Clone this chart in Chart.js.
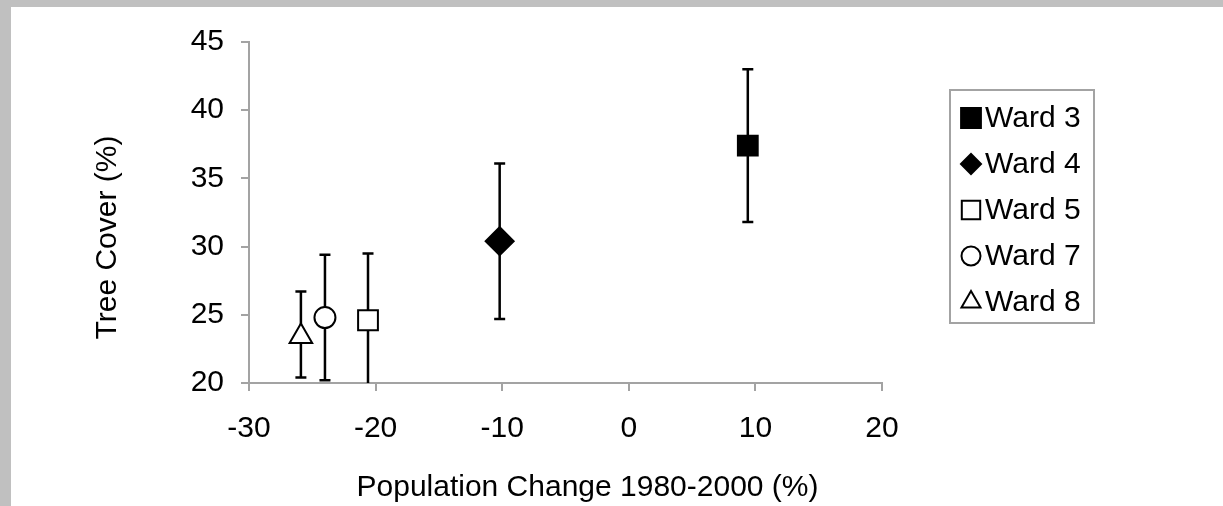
<!DOCTYPE html>
<html>
<head>
<meta charset="utf-8">
<script src="https://cdn.jsdelivr.net/npm/chart.js@4.4.1/dist/chart.umd.min.js"></script>
<style>
html, body { margin: 0; padding: 0; background: #c0c0c0; overflow: hidden; }
#wrap { position: absolute; left: 11px; top: 7px; width: 1212px; height: 499px; background: #fff; }
</style>
</head>
<body>
<div id="wrap"><canvas id="chart" width="1212" height="499"></canvas></div>
<script>
'use strict';

// data
var wards = ['Ward 3', 'Ward 4', 'Ward 5', 'Ward 7', 'Ward 8'];
var popChange = [9.4, -10.2, -20.6, -24.0, -25.9];
var treeCover = [37.4, 30.4, 24.6, 24.8, 23.4];
var errLow = [31.8, 24.7, 19.5, 20.2, 20.4];
var errHigh = [43.0, 36.1, 29.5, 29.4, 26.7];

var xTitle = 'Population Change 1980-2000 (%)';
var yTitle = 'Tree Cover (%)';

// marker look per ward
var markerStyles = ['rect', 'rectRot', 'rect', 'circle', 'triangle'];
var markerFills = ['#000', '#000', '#fff', '#fff', '#fff'];
var markerSizes = [14, 14, 14, 10.5, 13];
var legendSizes = [14, 10, 13, 9.5, 11];

var FONT = "'Liberation Sans', Arial, Helvetica, sans-serif";
var AXIS_GREY = '#a3a3a3';

var datasets = wards.map(function (name, i) {
    return {
        label: name,
        data: [{ x: popChange[i], y: treeCover[i] }],
        pointStyle: markerStyles[i],
        pointRadius: markerSizes[i],
        pointHoverRadius: markerSizes[i],
        backgroundColor: markerFills[i],
        borderColor: '#000',
        borderWidth: 2,
        legendRadius: legendSizes[i]
    };
});

// vertical error bars, drawn under the markers
var errorBars = {
    id: 'errorBars',
    beforeDatasetsDraw: function (chart) {
        var ctx = chart.ctx, xs = chart.scales.x, ys = chart.scales.y, area = chart.chartArea;
        ctx.save();
        ctx.beginPath();
        ctx.rect(area.left, area.top - 30, area.right - area.left, area.bottom - area.top + 30);
        ctx.clip();
        ctx.strokeStyle = '#000';
        ctx.lineWidth = 2.5;
        for (var i = 0; i < wards.length; i++) {
            var x = xs.getPixelForValue(popChange[i]);
            var top = ys.getPixelForValue(errHigh[i]);
            var bot = ys.getPixelForValue(errLow[i]);
            ctx.beginPath();
            ctx.moveTo(x, top);
            ctx.lineTo(x, bot);
            ctx.moveTo(x - 5.5, top);
            ctx.lineTo(x + 5.5, top);
            ctx.moveTo(x - 5.5, bot);
            ctx.lineTo(x + 5.5, bot);
            ctx.stroke();
        }
        ctx.restore();
    }
};

// axis titles and boxed legend
var decorations = {
    id: 'decorations',
    afterDraw: function (chart) {
        var ctx = chart.ctx, area = chart.chartArea;
        ctx.save();
        ctx.fillStyle = '#000';
        ctx.font = '30px ' + FONT;
        ctx.textAlign = 'center';
        ctx.textBaseline = 'middle';
        ctx.fillText(xTitle, (area.left + area.right) / 2 + 22, area.bottom + 105);

        ctx.save();
        ctx.translate(97, (area.top + area.bottom) / 2 + 25);
        ctx.rotate(-Math.PI / 2);
        ctx.fillText(yTitle, 0, 0);
        ctx.restore();

        // legend
        var bx = 939, by = 83, bw = 144, bh = 233;
        ctx.strokeStyle = AXIS_GREY;
        ctx.lineWidth = 2;
        ctx.strokeRect(bx, by, bw, bh);
        ctx.textAlign = 'left';
        chart.data.datasets.forEach(function (ds, i) {
            var cy = by + 28 + i * 46;
            ctx.fillStyle = ds.backgroundColor;
            ctx.strokeStyle = '#000';
            ctx.lineWidth = 2;
            Chart.helpers.drawPoint(ctx, {
                pointStyle: ds.pointStyle,
                radius: ds.legendRadius,
                borderWidth: 2
            }, 960, cy);
            ctx.fillStyle = '#000';
            ctx.fillText(ds.label, 974, cy + 1);
        });
        ctx.restore();
    }
};

var axisCommon = {
    grid: { drawOnChartArea: false, drawTicks: true, tickLength: 8, color: AXIS_GREY, lineWidth: 2 },
    border: { color: AXIS_GREY, width: 2 },
    title: { display: false }
};

new Chart(document.getElementById('chart'), {
    type: 'scatter',
    data: { datasets: datasets },
    options: {
        responsive: false,
        animation: false,
        layout: { padding: { top: 32, right: 341, left: 0, bottom: 0 } },
        plugins: { legend: { display: false }, tooltip: { enabled: false } },
        scales: {
            x: Object.assign({}, axisCommon, {
                type: 'linear', min: -30, max: 20,
                ticks: { stepSize: 10, color: '#000', padding: 20, font: { family: FONT, size: 30 } },
                afterFit: function (s) { s.height = 123; }
            }),
            y: Object.assign({}, axisCommon, {
                type: 'linear', min: 20, max: 45,
                ticks: { stepSize: 5, color: '#000', padding: 17, font: { family: FONT, size: 30 } },
                afterFit: function (s) { s.width = 238; }
            })
        }
    },
    plugins: [errorBars, decorations]
});
</script>
</body>
</html>
